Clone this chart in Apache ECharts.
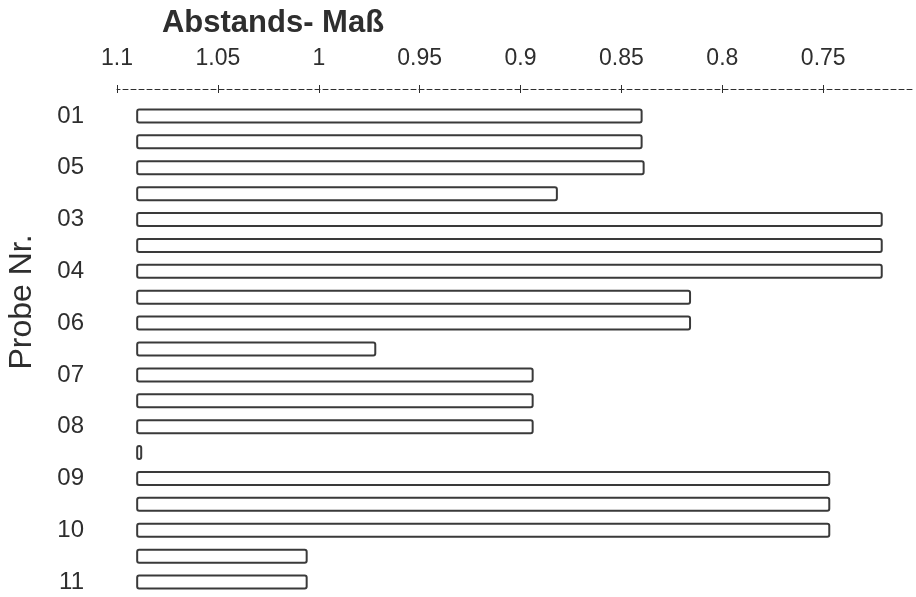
<!DOCTYPE html>
<html>
<head>
<meta charset="utf-8">
<script src="https://cdn.jsdelivr.net/npm/echarts@6/dist/echarts.min.js"></script>
<style>
  html, body { margin: 0; padding: 0; background: #ffffff; }
  #chart { width: 916px; height: 597px; }
</style>
</head>
<body>
<div id="chart"></div>
<script>
// Sample rows (labels only on every other row)
const categories = ['01', '', '05', '', '03', '', '04', '', '06', '', '07', '', '08', '', '09', '', '10', '', '11'];
// Distance value reached by each bar
const distances = [0.840, 0.840, 0.839, 0.882, 0.721, 0.721, 0.721, 0.816, 0.816, 0.972,
                   0.894, 0.894, 0.894, 1.088, 0.747, 0.747, 0.747, 1.006, 1.006];
// Common starting value of all bars
const barStart = 1.09;
// Tick values on the distance scale
const tickValues = [1.1, 1.05, 1, 0.95, 0.9, 0.85, 0.8, 0.75];

const FONT = '"Liberation Sans", Arial, Helvetica, sans-serif';
const INK = '#2e2e2e';

const chart = echarts.init(document.getElementById('chart'), null, { renderer: 'canvas' });

const option = {
  backgroundColor: '#ffffff',
  animation: false,
  title: {
    text: 'Abstands- Maß',
    left: 268,
    top: 3,
    textAlign: 'center',
    textStyle: { fontFamily: FONT, fontWeight: 'bold', fontSize: 31, color: INK }
  },
  graphic: [{
    type: 'text',
    x: 22,
    y: 302,
    rotation: Math.PI / 2,
    style: {
      text: 'Probe Nr.',
      fontFamily: FONT,
      fontSize: 32,
      fill: INK,
      textAlign: 'center',
      textVerticalAlign: 'middle'
    }
  }],
  grid: { left: 117, right: 4, top: 103, bottom: 2, containLabel: false },
  xAxis: [{
    type: 'value',
    position: 'top',
    inverse: true,
    min: 0.706,
    max: 1.1,
    offset: 14,
    splitLine: { show: false },
    axisLine: { show: true, lineStyle: { color: INK, width: 1, type: [5, 3] } },
    axisTick: { show: true, inside: false, length: 4, customValues: tickValues, lineStyle: { color: INK, width: 1 } },
    axisLabel: {
      show: true,
      customValues: tickValues,
      margin: 19,
      fontFamily: FONT,
      fontSize: 23,
      color: INK
    }
  }, {
    type: 'value',
    position: 'top',
    inverse: true,
    min: 0.706,
    max: 1.1,
    offset: 14,
    splitLine: { show: false },
    axisLine: { show: false },
    axisTick: { show: true, inside: true, length: 4, customValues: tickValues, lineStyle: { color: INK, width: 1 } },
    axisLabel: { show: false }
  }],
  yAxis: {
    type: 'category',
    inverse: true,
    data: categories,
    axisLine: { show: false },
    axisTick: { show: false },
    splitLine: { show: false },
    axisLabel: {
      interval: 0,
      margin: 33,
      padding: [4, 0, 0, 0],
      fontFamily: FONT,
      fontSize: 24,
      color: INK
    }
  },
  series: [{
    type: 'custom',
    xAxisIndex: 0,
    data: distances.map((v, i) => [i, v]),
    encode: { x: 1, y: 0 },
    renderItem: function (params, api) {
      const idx = api.value(0);
      const p0 = api.coord([barStart, idx]);
      const p1 = api.coord([api.value(1), idx]);
      const h = 13;
      const x = Math.min(p0[0], p1[0]);
      const w = Math.abs(p1[0] - p0[0]);
      return {
        type: 'rect',
        shape: { x: x, y: p0[1] - h / 2, width: w, height: h, r: 2 },
        style: { fill: '#ffffff', stroke: '#3a3a3a', lineWidth: 2 }
      };
    }
  }]
};

chart.setOption(option);
</script>
</body>
</html>
